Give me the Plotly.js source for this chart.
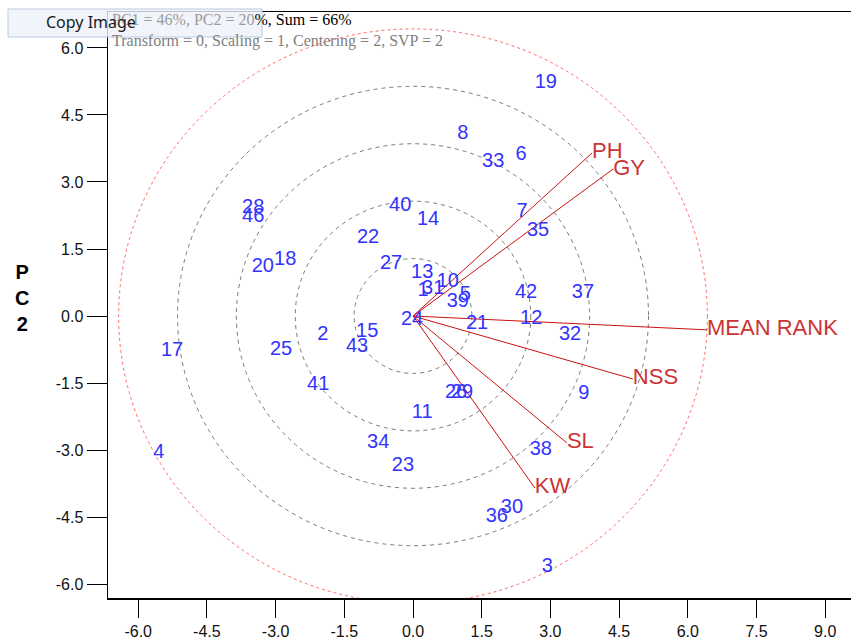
<!DOCTYPE html>
<html>
<head>
<meta charset="utf-8">
<script src="https://cdn.plot.ly/plotly-3.0.1.min.js"></script>
<style>html,body{margin:0;padding:0;background:#fff;}#chart{width:851px;height:641px;}</style>
</head>
<body>
<div id="chart"></div>
<script>
// Genotype scores (PC1, PC2)
const genotypes = ['19','8','33','6','7','35','40','14','22','28','46','18','20','27','13','1','31','10','5','39','24','21','42','37','12','32','9','15','43','2','25','17','41','11','26','29','34','23','38','30','36','3','4'];
const genoPC1 = [2.90,1.09,1.75,2.36,2.38,2.73,-0.28,0.33,-0.98,-3.49,-3.49,-2.79,-3.28,-0.48,0.20,0.22,0.44,0.76,1.14,0.98,-0.02,1.40,2.47,3.71,2.58,3.43,3.73,-1.00,-1.22,-1.97,-2.88,-5.26,-2.07,0.20,0.94,1.07,-0.76,-0.22,2.79,2.16,1.83,2.93,-5.55];
const genoPC2 = [5.22,4.07,3.45,3.60,2.33,1.90,2.46,2.15,1.75,2.42,2.22,1.25,1.10,1.16,0.96,0.56,0.60,0.76,0.47,0.31,-0.09,-0.18,0.51,0.51,-0.07,-0.43,-1.75,-0.36,-0.69,-0.43,-0.76,-0.78,-1.54,-2.17,-1.72,-1.72,-2.84,-3.36,-3.00,-4.30,-4.50,-5.62,-3.07];

// Trait vectors (PC1, PC2)
const traits = ['PH','GY','MEAN RANK','NSS','SL','KW'];
const traitPC1 = [3.91,4.37,6.42,4.80,3.36,2.66];
const traitPC2 = [3.65,3.29,-0.31,-1.41,-2.84,-3.85];

// Axis ticks
const xTicks = [-6.0,-4.5,-3.0,-1.5,0.0,1.5,3.0,4.5,6.0,7.5,9.0];
const yTicks = [-6.0,-4.5,-3.0,-1.5,0.0,1.5,3.0,4.5,6.0];

const titleLine1a = 'PC1 = 46%, PC2 = 20';
const titleLine1b = '%, Sum = 66%';
const titleLine2 = 'Transform = 0, Scaling = 1, Centering = 2, SVP = 2';

// vector line segments from origin
const vx = [], vy = [];
traits.forEach((t,i)=>{ vx.push(0, traitPC1[i], null); vy.push(0, traitPC2[i], null); });

// circle radius = longest vector
const maxLen = Math.max(...traits.map((t,i)=>Math.hypot(traitPC1[i], traitPC2[i])));

const shapes = [];
for (let k=1;k<=4;k++){
  const r = maxLen*k/5;
  shapes.push({type:'circle', xref:'x', yref:'y', x0:-r, x1:r, y0:-r, y1:r,
    line:{color:'#7a7a7a', width:1, dash:'4px,4px'}, layer:'below'});
}
shapes.push({type:'circle', xref:'x', yref:'y', x0:-maxLen, x1:maxLen, y0:-maxLen, y1:maxLen,
  line:{color:'#ff6a6a', width:1, dash:'3px,3px'}, layer:'below'});

// px helpers for decorative overlay (paper coords)
const L=108, R=851, T=12, B=598;
const px = v => (v-L)/(R-L);
const py = v => (B-v)/(B-T);

shapes.push({type:'rect', xref:'paper', yref:'paper', x0:px(8), x1:px(262), y0:py(37), y1:py(9),
  fillcolor:'rgba(238,243,250,0.80)', line:{color:'rgb(185,202,225)', width:1}, layer:'above'});

const traces = [
  {x:vx, y:vy, mode:'lines', type:'scatter', line:{color:'#cc1111', width:1}, hoverinfo:'skip'},
  {x:genoPC1, y:genoPC2, text:genotypes, mode:'text', type:'scatter', textposition:'middle center',
   textfont:{family:'Liberation Sans, Arial, sans-serif', size:20, color:'#3333ff'}, hoverinfo:'skip'},
  {x:traitPC1, y:traitPC2, text:traits, mode:'text', type:'scatter', textposition:'middle right',
   textfont:{family:'Liberation Sans, Arial, sans-serif', size:22, color:'#cc3333'}, hoverinfo:'skip'}
];

const axisFont = {family:'Liberation Sans, Arial, sans-serif', size:16, color:'#111'};
const layout = {
  width:851, height:641,
  margin:{l:L, r:0, t:T, b:641-B, pad:0},
  paper_bgcolor:'#fff', plot_bgcolor:'#fff',
  showlegend:false, hovermode:false,
  xaxis:{range:[(L-413)/45.8, (R-413)/45.8], tickvals:xTicks, ticktext:xTicks.map(v=>v.toFixed(1)),
    showgrid:false, zeroline:false, showline:true, mirror:true, linecolor:'#000', linewidth:1.5,
    ticks:'outside', ticklen:18, tickwidth:1, tickcolor:'#000', tickfont:axisFont},
  yaxis:{range:[-(B-316)/44.67, (316-T)/44.67], tickvals:yTicks, ticktext:yTicks.map(v=>v.toFixed(1)),
    showgrid:false, zeroline:false, showline:true, mirror:false, linecolor:'#000', linewidth:1.5,
    ticks:'outside', ticklen:20, tickwidth:1, tickcolor:'#000', tickfont:axisFont},
  shapes:shapes,
  annotations:[
    {xref:'paper', yref:'paper', x:px(110), y:py(20), xanchor:'left', yanchor:'middle', showarrow:false,
     text:'<span style="color:#9a9a9a">'+titleLine1a+'</span>'+titleLine1b,
     font:{family:'Liberation Serif, Times New Roman, serif', size:16, color:'#000'}},
    {xref:'paper', yref:'paper', x:px(110), y:py(41), xanchor:'left', yanchor:'middle', showarrow:false,
     text:titleLine2, font:{family:'Liberation Serif, Times New Roman, serif', size:16, color:'#808080'}},
    {xref:'paper', yref:'paper', x:px(44), y:py(22), xanchor:'left', yanchor:'middle', showarrow:false,
     text:'Copy Image', font:{family:'Noto Sans, DejaVu Sans, sans-serif', size:16, color:'#1a1a1a'}},
    {xref:'paper', yref:'paper', x:px(22), y:py(298), xanchor:'center', yanchor:'middle', showarrow:false,
     text:'<b>P</b><br><b>C</b><br><b>2</b>', font:{family:'Liberation Sans, Arial, sans-serif', size:20, color:'#000'}}
  ]
};

Plotly.newPlot('chart', traces, layout, {displayModeBar:false, staticPlot:true});
</script>
</body>
</html>
